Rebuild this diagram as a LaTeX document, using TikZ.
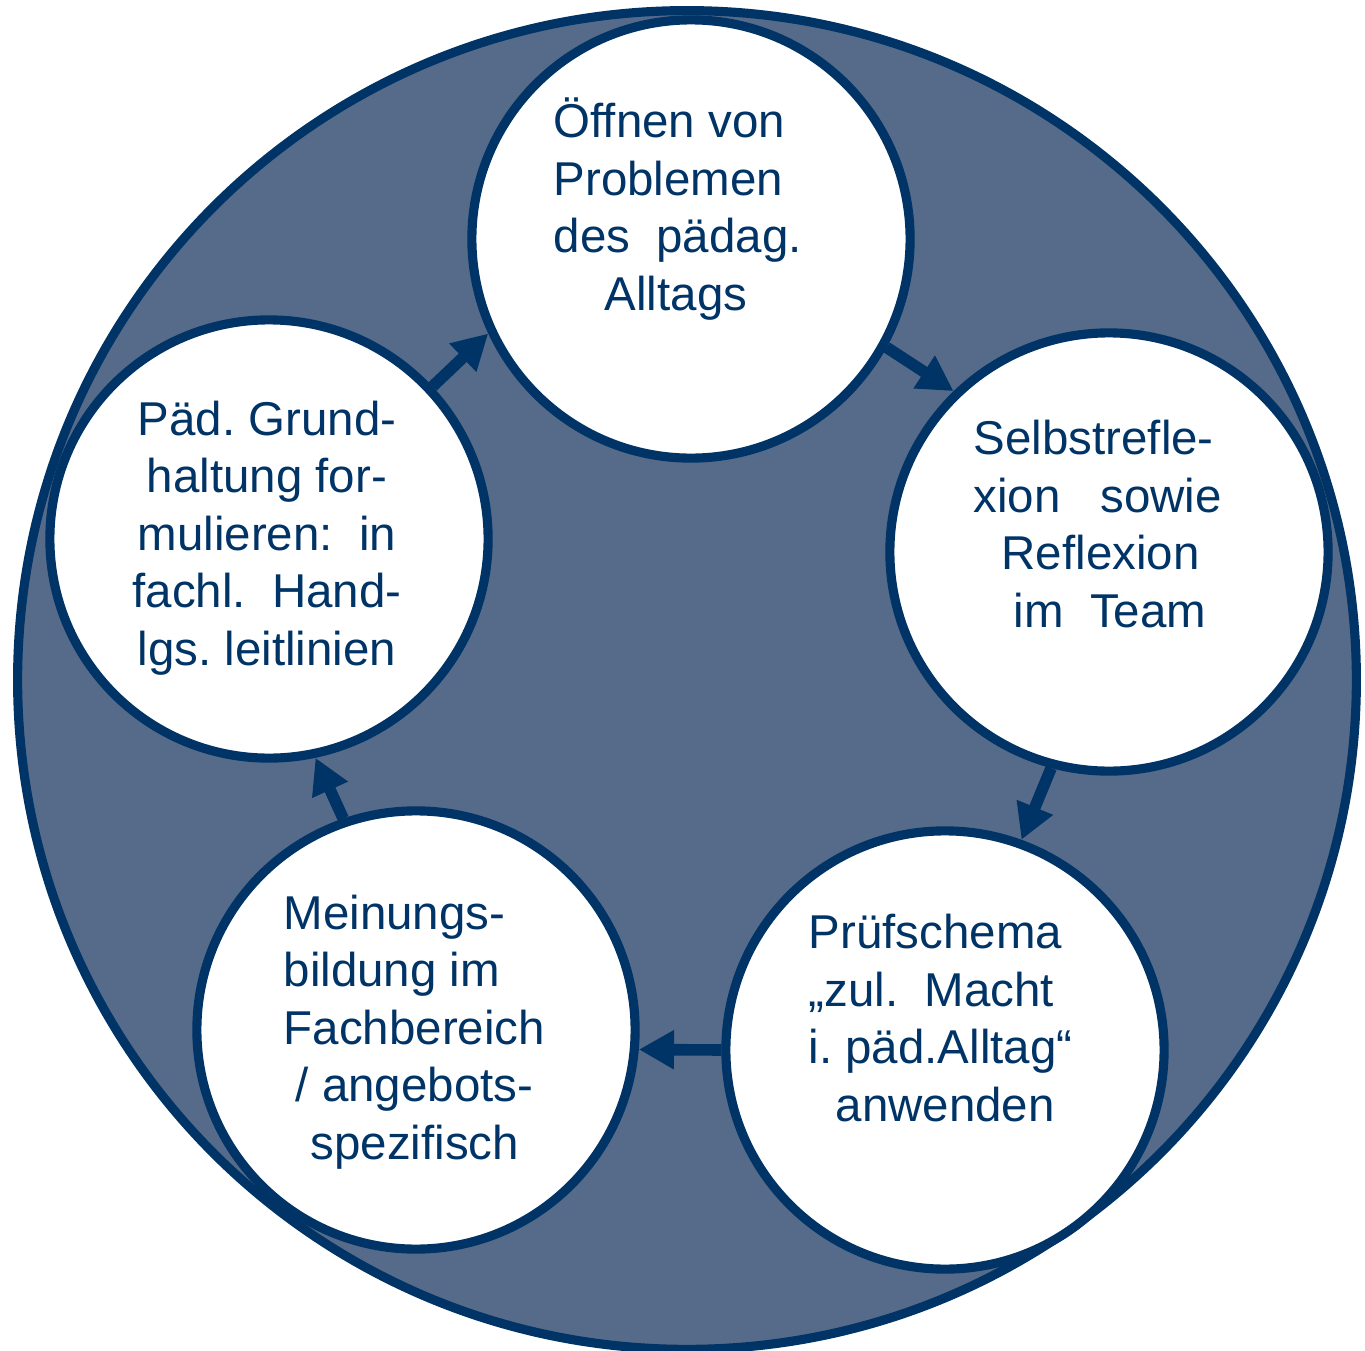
\documentclass[tikz,border=0pt]{standalone}
\usepackage{fontspec}
\setmainfont{Liberation Sans}
\usetikzlibrary{arrows.meta}
\definecolor{navy}{RGB}{0,51,102}
\definecolor{hatch}{RGB}{86,107,138}
\frenchspacing
\tikzset{%
  >={Triangle[length=10pt,width=10.5pt]},
  % Specifications for style of nodes:
  ring/.style = {circle, draw=navy, line width=2.6pt, fill=hatch, inner sep=0pt},
  stage/.style = {circle, draw=navy, line width=2.6pt, fill=white,
                  minimum size=4.38cm, inner sep=0pt},
  txt/.style = {text=navy, inner sep=0pt,
                font=\fontsize{13.5}{16.35}\selectfont},
  flow/.style = {->, draw=navy, line width=3.3pt},
}

\begin{document}
\begin{tikzpicture}[x=0.01cm, y=-0.01cm]
  \useasboundingbox (0,0) rectangle (1365,1351);
  % outer disc
  \node (cycle) [ring, minimum size=13.38cm] at (687,680) {};

  % the five stages
  \node (open)     [stage] at (691,239)  {};
  \node (reflect)  [stage] at (1109,552) {};
  \node (check)    [stage] at (945,1050) {};
  \node (opinion)  [stage] at (416,1030) {};
  \node (attitude) [stage] at (269,539)  {};

  % texts
  \node (open-t) [txt, align=left, anchor=west] at (553,209)
    {Öffnen von\\ Problemen\\ des~~pädag.\\ \hspace*{0.51cm}Alltags};
  \node (reflect-t) [txt, align=left, anchor=west] at (973,524)
    {Selbstrefle-\\ xion~~~sowie\\ \hspace*{0.28cm}Reflexion\\ \hspace*{0.4cm}im~~Team};
  \node (check-t) [txt, align=left, anchor=west] at (808,1018)
    {Prüfschema\\ „zul.~~Macht\\ i. päd.Alltag“\\ \hspace*{0.27cm}anwenden};
  \node (opinion-t) [txt, align=left, anchor=west] at (283,1032)
    {Meinungs-\\ bildung im\\ Fachbereich\\ \hspace*{0.12cm}/ angebots-\\ \hspace*{0.27cm}spezifisch};
  \node (attitude-t) [txt, align=center] at (267,538)
    {Päd. Grund-\\ haltung for-\\ mulieren:~~in\\ fachl.~~Hand-\\ lgs. leitlinien};

  % arrows round the cycle
  \draw [flow] (attitude.43) -- (open.205);
  \draw [flow] (open.-29) -- (reflect.134);
  \draw [flow] (reflect.255) -- (check.70);
  \draw [flow] (check.180) -- (opinion.-5);
  \draw [flow] (opinion.109) -- (attitude.-78);
\end{tikzpicture}
\end{document}
